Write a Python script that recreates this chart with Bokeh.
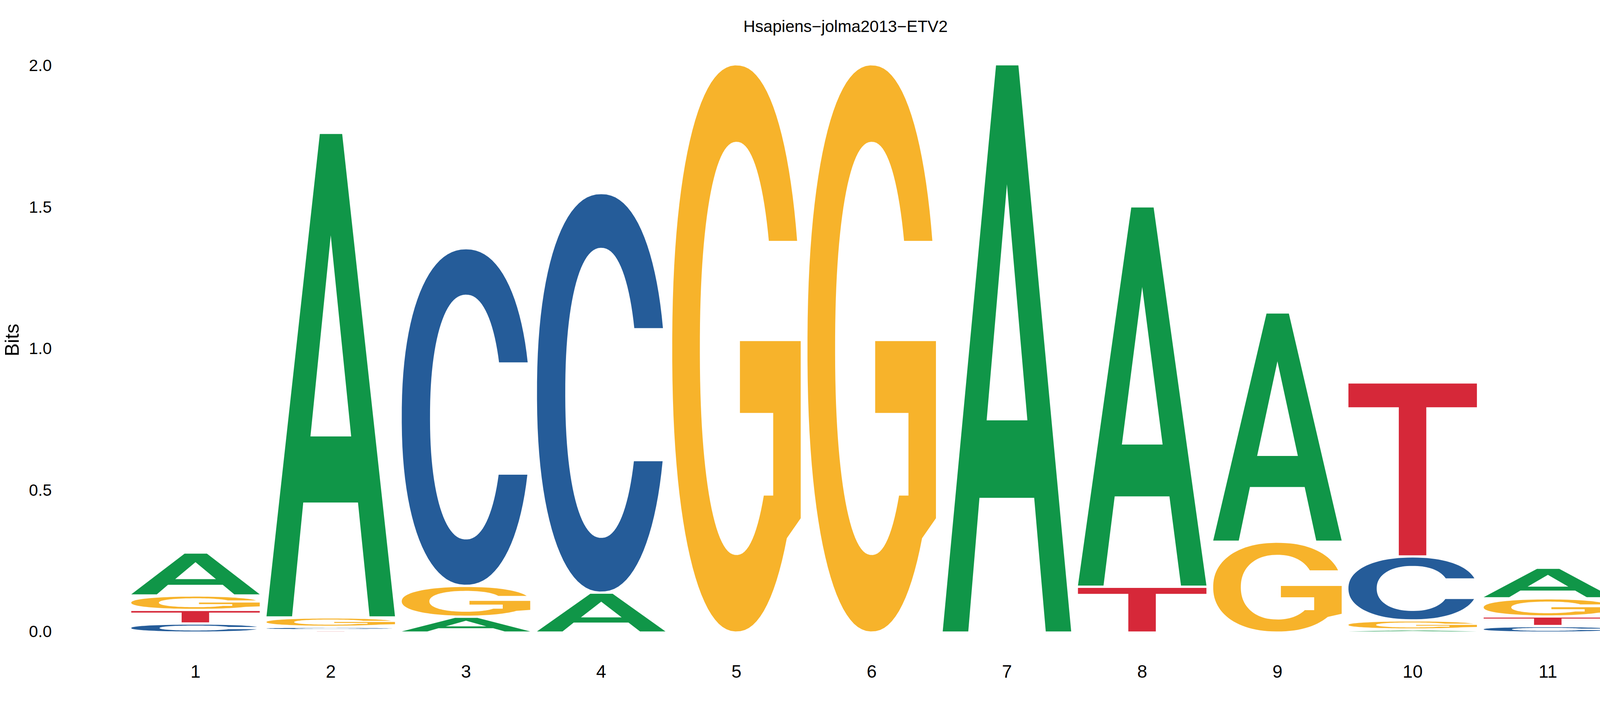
import numpy as np
from bokeh.embed import file_html
from bokeh.models import ColumnDataSource, FixedTicker, PrintfTickFormatter, Range1d
from bokeh.plotting import figure
from bokeh.resources import INLINE

# information content (bits) per base, positions 1..11
title = "Hsapiens−jolma2013−ETV2"
positions = list(range(1, 12))
a_bits = [0.144, 1.704, 0.048, 0.133, 0.0, 0.0, 2.0, 1.336, 0.802, 0.003, 0.100]
c_bits = [0.024, 0.004, 1.185, 1.404, 0.0, 0.0, 0.0, 0.0, 0.0, 0.218, 0.015]
g_bits = [0.043, 0.025, 0.101, 0.0, 2.0, 2.0, 0.0, 0.0, 0.313, 0.024, 0.056]
t_bits = [0.040, 0.0005, 0.0, 0.0, 0.0, 0.0, 0.0, 0.154, 0.0, 0.607, 0.026]
y_ticks = [0.0, 0.5, 1.0, 1.5, 2.0]

bits = {"A": a_bits, "C": c_bits, "G": g_bits, "T": t_bits}
base_colors = {"A": "#109648", "C": "#255C99", "G": "#F7B32B", "T": "#D62839"}

LETTER_WIDTH = 0.95
GAP = 0.008
FONT = "Liberation Sans"


def _arc(cx, cy, rx, ry, t0, t1, n=2.2, num=90):
    t = np.linspace(t0, t1, num)
    c, s = np.cos(t), np.sin(t)
    x = cx + rx * np.sign(c) * np.abs(c) ** (2 / n)
    y = cy + ry * np.sign(s) * np.abs(s) ** (2 / n)
    return list(x), list(y)


def _angle(cy, ry, y, n=2.2):
    s = min(abs(y - cy) / ry, 1.0) ** (n / 2)
    return float(np.sign(y - cy) * np.arcsin(s))


def glyph_a():
    outer = ([0, 0.415, 0.589, 1, 0.802, 0.712, 0.286, 0.199],
             [0, 1, 1, 0, 0, 0.236, 0.236, 0])
    hole = ([0.342, 0.50, 0.659], [0.373, 0.79, 0.373])
    return [outer, hole]


def glyph_t():
    return [([0, 1, 1, 0.606, 0.606, 0.392, 0.392, 0],
             [1, 1, 0.862, 0.862, 0, 0, 0.862, 0.862])]


def glyph_c():
    ox, oy = _arc(0.5, 0.5, 0.5, 0.5, _angle(0.5, 0.5, 0.663), 2 * np.pi + _angle(0.5, 0.5, 0.328))
    ix, iy = _arc(0.5, 0.5, 0.28, 0.365, 2 * np.pi + _angle(0.5, 0.365, 0.328), _angle(0.5, 0.365, 0.663))
    return [(ox + ix, oy + iy)]


def glyph_g():
    ox, oy = _arc(0.5, 0.5, 0.5, 0.5, _angle(0.5, 0.5, 0.69), 2 * np.pi - 0.70)
    sx = [1.0, 1.0, 0.527, 0.527, 0.786, 0.786]
    sy = [0.20, 0.513, 0.513, 0.386, 0.386, 0.24]
    ix, iy = _arc(0.5, 0.5, 0.285, 0.365, 2 * np.pi + _angle(0.5, 0.365, 0.24), _angle(0.5, 0.365, 0.69))
    return [(ox + sx + ix, oy + sy + iy)]


shapes = {"A": glyph_a(), "C": glyph_c(), "G": glyph_g(), "T": glyph_t()}

# stack letters, smallest at the bottom
xs, ys, colors = [], [], []
for i, pos in enumerate(positions):
    stack = sorted((bits[b][i], b) for b in bits if bits[b][i] > 0)
    y0 = 0.0
    for h, b in stack:
        xs.append([[list(pos - LETTER_WIDTH / 2 + LETTER_WIDTH * np.asarray(u, dtype=float)) for u, v in shapes[b]]])
        ys.append([[list(y0 + h * np.asarray(v, dtype=float)) for u, v in shapes[b]]])
        colors.append(base_colors[b])
        y0 += h + GAP

source = ColumnDataSource(data=dict(xs=xs, ys=ys, color=colors))

p = figure(
    width=4334,
    height=1813,
    x_range=Range1d(0.1075, 11.505),
    y_range=Range1d(-0.0303, 2.0897),
    title=title,
    output_backend="svg",
    toolbar_location=None,
    min_border_left=191,
    min_border_right=197,
    min_border_top=102,
    min_border_bottom=174,
)
p.multi_polygons(xs="xs", ys="ys", fill_color="color", line_color=None, source=source)

p.title.align = "center"
p.title.text_font = FONT
p.title.text_font_size = "42px"
p.title.text_font_style = "normal"
p.title.text_color = "black"
p.title.standoff = 23

p.xaxis.ticker = FixedTicker(ticks=positions)
p.yaxis.ticker = FixedTicker(ticks=y_ticks)
p.yaxis.formatter = PrintfTickFormatter(format="%.1f")
p.yaxis.axis_label = "Bits"
p.yaxis.axis_label_text_font = FONT
p.yaxis.axis_label_text_font_size = "50px"
p.yaxis.axis_label_text_font_style = "normal"
p.yaxis.axis_label_text_color = "black"
p.yaxis.axis_label_standoff = 12

for ax in (p.xaxis, p.yaxis):
    ax.axis_line_color = None
    ax.major_tick_line_color = None
    ax.minor_tick_line_color = None
    ax.major_tick_out = 0
    ax.major_tick_in = 0
    ax.major_label_text_font = FONT
    ax.major_label_text_color = "black"
p.xaxis.major_label_text_font_size = "46px"
p.yaxis.major_label_text_font_size = "42px"
p.xaxis.major_label_standoff = 64
p.yaxis.major_label_standoff = 59

p.grid.grid_line_color = None
p.outline_line_color = None
p.background_fill_color = "white"

open("out.html", "w").write(file_html(p, INLINE))
